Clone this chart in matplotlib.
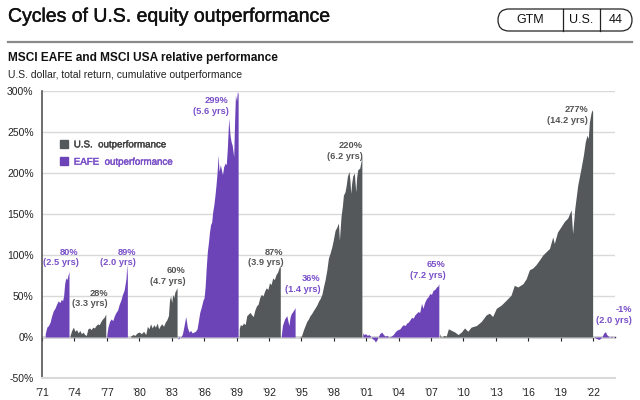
import matplotlib
matplotlib.use("Agg")
import matplotlib.pyplot as plt
import matplotlib.patheffects as pe
from matplotlib.patches import Patch, FancyBboxPatch
from matplotlib.lines import Line2D

plt.rcParams['font.family'] = ['Liberation Sans', 'DejaVu Sans']

PURPLE = '#6c44b8'
PURPLE_TXT = '#7a4fc8'
GREY = '#54585a'
GREY_TXT = '#555555'

# ---- data (cumulative relative performance, %) ----
eafe_1_x = [1971.3, 1971.45, 1971.6, 1971.75, 1971.9, 1972.05, 1972.2, 1972.35, 1972.5, 1972.65,
            1972.8, 1972.9, 1973.0, 1973.1, 1973.2, 1973.3, 1973.4, 1973.5]
eafe_1_y = [4, 12, 14, 18, 26, 32, 35, 40, 44, 42, 46, 44, 50, 65, 72, 70, 75, 80]

us_1_x = [1973.6, 1973.75, 1973.9, 1974.05, 1974.2, 1974.35, 1974.5, 1974.65, 1974.8, 1974.95,
          1975.1, 1975.25, 1975.4, 1975.55, 1975.7, 1975.85, 1976.0, 1976.15, 1976.3, 1976.45,
          1976.6, 1976.75, 1976.9]
us_1_y = [2, 8, 12, 7, 9, 5, 8, 4, 6, 3, 2, 10, 11, 9, 12, 11, 14, 16, 15, 19, 22, 24, 28]

eafe_2_x = [1977.0, 1977.1, 1977.25, 1977.4, 1977.55, 1977.7, 1977.85, 1978.0, 1978.15, 1978.3,
            1978.45, 1978.6, 1978.7, 1978.78, 1978.84, 1978.9]
eafe_2_y = [3, 12, 19, 22, 20, 26, 30, 33, 40, 45, 52, 57, 65, 72, 89, 74]

us_2_x = [1979.2, 1979.4, 1979.6, 1979.8, 1980.0, 1980.2, 1980.4, 1980.6, 1980.75, 1980.9,
          1981.05, 1981.2, 1981.35, 1981.5, 1981.65, 1981.8, 1981.95, 1982.1, 1982.25, 1982.4,
          1982.55, 1982.7, 1982.8, 1982.9, 1983.0, 1983.1, 1983.2, 1983.3, 1983.42, 1983.5]
us_2_y = [1, 3, 2, 5, 6, 4, 7, 3, 13, 10, 16, 11, 15, 12, 17, 10, 14, 16, 13, 18,
          21, 26, 45, 50, 42, 52, 48, 55, 58, 60]

eafe_3_x = [1983.6, 1983.75, 1983.9, 1984.0, 1984.15, 1984.3, 1984.45, 1984.6, 1984.75, 1984.9,
            1985.05, 1985.2, 1985.35, 1985.5, 1985.6, 1985.75, 1985.9, 1986.0, 1986.1, 1986.2,
            1986.3, 1986.4, 1986.5, 1986.6, 1986.7, 1986.8, 1986.9, 1987.0, 1987.1, 1987.2,
            1987.3, 1987.38, 1987.5, 1987.6, 1987.7, 1987.82, 1987.95, 1988.05, 1988.15, 1988.28,
            1988.4, 1988.5, 1988.6, 1988.74, 1988.82, 1988.9, 1989.0, 1989.08, 1989.15]
eafe_3_y = [-3, 0, 1, 4, 14, 25, 12, 6, 8, 5, 6, 7, 10, 22, 30, 37, 45, 48, 62, 85,
            104, 115, 128, 137, 140, 153, 161, 172, 185, 200, 222, 202, 210, 204, 198, 208, 212, 210, 230, 267,
            246, 238, 234, 220, 262, 295, 288, 299, 297]

us_3_x = [1989.25, 1989.35, 1989.5, 1989.65, 1989.8, 1989.95, 1990.1, 1990.25, 1990.4, 1990.55,
          1990.7, 1990.85, 1991.0, 1991.15, 1991.3, 1991.45, 1991.6, 1991.75, 1991.9, 1992.05,
          1992.2, 1992.35, 1992.5, 1992.65, 1992.8, 1992.9, 1993.0, 1993.05]
us_3_y = [10, 15, 14, 17, 15, 26, 28, 30, 27, 25, 33, 38, 40, 48, 52, 50, 56, 60, 58, 66,
          64, 72, 70, 76, 79, 83, 87, 85]

eafe_4_x = [1993.15, 1993.25, 1993.35, 1993.45, 1993.55, 1993.65, 1993.75, 1993.85, 1993.95, 1994.05,
            1994.15, 1994.25, 1994.35, 1994.42]
eafe_4_y = [3, 14, 18, 22, 24, 26, 20, 14, 24, 28, 30, 32, 34, 36]

us_4_x = [1994.6, 1994.8, 1995.0, 1995.1, 1995.2, 1995.35, 1995.5, 1995.65, 1995.8, 1995.97,
          1996.1, 1996.25, 1996.43, 1996.6, 1996.74, 1996.9, 1997.04, 1997.2, 1997.36, 1997.5,
          1997.65, 1997.82, 1997.95, 1998.12, 1998.28, 1998.43, 1998.52, 1998.67, 1998.8, 1998.89,
          1999.04, 1999.15, 1999.26, 1999.41, 1999.5, 1999.57, 1999.66, 1999.75, 1999.9, 2000.03,
          2000.12, 2000.22, 2000.4, 2000.52, 2000.6]
us_4_y = [0, 0, 1, 5, 9, 14, 19, 22, 26, 29, 32, 35, 39, 44, 47, 52, 61, 70, 82, 96,
          102, 110, 118, 130, 134, 139, 118, 147, 160, 173, 177, 185, 196, 202, 190, 175, 188, 196, 200, 177,
          195, 204, 206, 214, 220]

eafe_5_x = [2000.68, 2000.8, 2000.95, 2001.1, 2001.25, 2001.4, 2001.55, 2001.7, 2001.85, 2001.97,
            2002.1, 2002.25, 2002.43, 2002.6, 2002.75, 2002.9, 2003.1, 2003.3, 2003.5, 2003.66,
            2003.8, 2003.95, 2004.12, 2004.28, 2004.43, 2004.6, 2004.75, 2004.89, 2005.05, 2005.2,
            2005.35, 2005.5, 2005.65, 2005.8, 2005.95, 2006.12, 2006.25, 2006.4, 2006.58, 2006.73,
            2006.89, 2007.04, 2007.19, 2007.35, 2007.5, 2007.62, 2007.72]
eafe_5_y = [5, 3, 4, 2, 3, 1, -2, -3, -6, -4, 0, 4, 6, 3, 1, 2, 0, 1, 3, 6,
            8, 9, 10, 13, 15, 14, 17, 18, 21, 24, 23, 27, 29, 31, 30, 41, 35, 42, 47, 49,
            53, 52, 57, 58, 61, 62, 65]

us_5_x = [2007.81, 2007.9, 2008.0, 2008.2, 2008.4, 2008.6, 2008.9, 2009.2, 2009.5, 2009.8,
          2010.1, 2010.4, 2010.7, 2011.2, 2011.65, 2012.1, 2012.4, 2012.7, 2013.04, 2013.5,
          2013.96, 2014.4, 2014.7, 2015.03, 2015.5, 2015.8, 2016.1, 2016.4, 2016.7, 2017.03,
          2017.34, 2017.65, 2017.96, 2018.26, 2018.4, 2018.7, 2019.0, 2019.34, 2019.64, 2019.96,
          2020.1, 2020.3, 2020.57, 2020.88, 2021.1, 2021.27, 2021.43, 2021.55, 2021.65, 2021.8,
          2021.89, 2021.95]
us_5_y = [4, 1, 0, 2, 1, 10, 8, 6, 3, 6, 11, 7, 12, 14, 19, 27, 29, 25, 35, 39,
          45, 51, 63, 61, 65, 71, 82, 84, 88, 94, 100, 104, 108, 122, 114, 128, 134, 141, 145, 155,
          126, 157, 185, 206, 222, 238, 246, 242, 262, 273, 277, 275]

eafe_6_x = [2022.05, 2022.2, 2022.35, 2022.5, 2022.65, 2022.8, 2022.95, 2023.05, 2023.15, 2023.25,
            2023.4, 2023.55, 2023.7, 2023.85, 2024.0]
eafe_6_y = [0, -1, -2, -3, -2, 0, 4, 6, 6, 3, 1, 0, 1, 0, -1]

us_cycles = [(us_1_x, us_1_y), (us_2_x, us_2_y), (us_3_x, us_3_y), (us_4_x, us_4_y), (us_5_x, us_5_y)]
eafe_cycles = [(eafe_1_x, eafe_1_y), (eafe_2_x, eafe_2_y), (eafe_3_x, eafe_3_y),
               (eafe_4_x, eafe_4_y), (eafe_5_x, eafe_5_y), (eafe_6_x, eafe_6_y)]

# peak labels
label_texts = ['80%\n(2.5 yrs)', '28%\n(3.3 yrs)', '89%\n(2.0 yrs)', '60%\n(4.7 yrs)', '299%\n(5.6 yrs)',
               '87%\n(3.9 yrs)', '36%\n(1.4 yrs)', '220%\n(6.2 yrs)', '65%\n(7.2 yrs)',
               '277%\n(14.2 yrs)', '-1%\n(2.0 yrs)']
label_is_us = [False, True, False, True, False, True, False, True, False, True, False]
# label anchor (right edge, vertical centre) in data coordinates -- layout only
label_pos_x = [1974.4, 1977.1, 1979.7, 1984.3, 1988.25, 1993.35, 1996.75, 2000.7, 2008.35, 2021.55, 2025.6]
label_pos_y = [97, 47, 97, 74, 282, 97, 65, 227, 82, 271, 27]

x_ticks = [1971, 1974, 1977, 1980, 1983, 1986, 1989, 1992, 1995, 1998, 2001, 2004, 2007,
           2010, 2013, 2016, 2019, 2022]
x_ticklabels = ['\u201971', '\u201974', '\u201977', '\u201980', '\u201983', '\u201986', '\u201989',
                '\u201992', '\u201995', '\u201998', '\u201901', '\u201904', '\u201907', '\u201910',
                '\u201913', '\u201916', '\u201919', '\u201922']
y_ticks = [-50, 0, 50, 100, 150, 200, 250, 300]
y_ticklabels = ['-50%', '0%', '50%', '100%', '150%', '200%', '250%', '300%']

# ---- figure ----
fig = plt.figure(figsize=(6.4, 4.0), dpi=100)
ax = fig.add_axes([0.0656, 0.055, 0.895, 0.7175])

for xs, ys in us_cycles:
    ax.fill_between(xs, ys, 0, color=GREY, linewidth=0)
for xs, ys in eafe_cycles:
    ax.fill_between(xs, ys, 0, color=PURPLE, linewidth=0)

ax.set_xlim(1971, 2024)
ax.set_ylim(-50, 300)
ax.set_yticks(y_ticks)
ax.set_yticklabels(y_ticklabels)
ax.set_xticks(x_ticks)
ax.set_xticklabels(x_ticklabels)
ax.tick_params(axis='both', length=0, labelsize=7.5, colors='#222222')
ax.tick_params(axis='x', pad=7)
ax.tick_params(axis='y', pad=6)

ax.yaxis.grid(True, color='#d9d9d9', linewidth=1)
ax.set_axisbelow(True)
for s in ['top', 'right']:
    ax.spines[s].set_visible(False)
ax.spines['left'].set_color('#555555')
ax.spines['left'].set_linewidth(1.2)
ax.spines['bottom'].set_color('#d9d9d9')
ax.spines['bottom'].set_linewidth(1.5)

# zero line with small tick marks
zero = ax.secondary_xaxis(50 / 350)
zero.set_xticks(x_ticks)
zero.set_xticklabels([])
zero.tick_params(length=3, width=0.8, color='#222222', direction='out')
zero.spines['bottom'].set_color('#222222')
zero.spines['bottom'].set_linewidth(1.0)

for txt, is_us, lx, ly in zip(label_texts, label_is_us, label_pos_x, label_pos_y):
    ax.text(lx, ly, txt, ha='right', va='center', multialignment='right',
            fontsize=6.7, fontweight='bold', color=GREY_TXT if is_us else PURPLE_TXT,
            linespacing=1.25, clip_on=False)

handles = [Patch(color=GREY, label='U.S.  outperformance'),
           Patch(color=PURPLE, label='EAFE  outperformance')]
leg = ax.legend(handles=handles, loc='upper left', bbox_to_anchor=(0.025, 0.845), frameon=False,
                fontsize=7, handlelength=0.8, handleheight=0.9, handletextpad=0.6,
                labelspacing=0.75, borderaxespad=0)
for t, c in zip(leg.get_texts(), ['#444444', PURPLE_TXT]):
    t.set_color(c)
    t.set_path_effects([pe.withStroke(linewidth=0.3, foreground=c)])

# ---- header ----
fig.text(0.0125, 0.957, 'Cycles of U.S. equity outperformance', fontsize=14, va='center', color='#111111',
         path_effects=[pe.withStroke(linewidth=0.3, foreground='#111111')])
fig.add_artist(Line2D([0.0125, 0.988], [0.895, 0.895], color='#8a8a8a', linewidth=1.6))
fig.text(0.0125, 0.855, 'MSCI EAFE and MSCI USA relative performance', fontsize=8.6,
         fontweight='bold', va='center', color='#111111')
fig.text(0.0125, 0.813, 'U.S. dollar, total return, cumulative outperformance', fontsize=7.5,
         va='center', color='#222222')

badge = FancyBboxPatch((4.98, 3.69), 1.34, 0.22, boxstyle='round,pad=0,rounding_size=0.11',
                       transform=fig.dpi_scale_trans, facecolor='white', edgecolor='#222222',
                       linewidth=0.9)
fig.add_artist(badge)
for bx in [5.63, 6.00]:
    fig.add_artist(Line2D([bx, bx], [3.69, 3.91], color='#222222', linewidth=0.9,
                          transform=fig.dpi_scale_trans))
for bx, bt in zip([5.30, 5.815, 6.16], ['GTM', 'U.S.', '44']):
    fig.text(bx, 3.80, bt, transform=fig.dpi_scale_trans, ha='center', va='center', fontsize=9,
             color='#111111')

fig.savefig('out.png', dpi=100)
